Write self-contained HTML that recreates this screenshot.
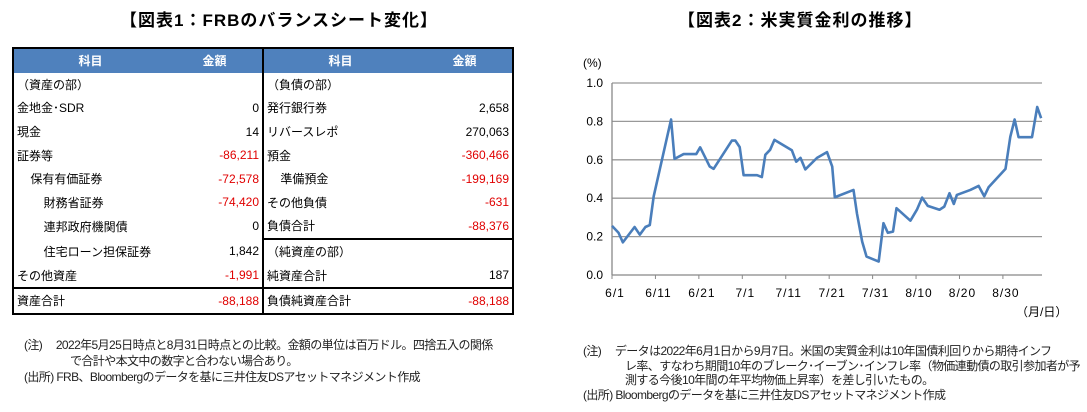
<!DOCTYPE html>
<html><head><meta charset="utf-8">
<style>
body{margin:0;width:1087px;height:412px;background:#fff;font-family:"Liberation Sans","Noto Sans CJK JP",sans-serif;position:relative;overflow:hidden;color:#000}
.title{position:absolute;top:6px;font-size:17px;font-weight:bold;letter-spacing:1px}
table{position:absolute;left:12px;top:47px;border-collapse:collapse;font-size:12px;table-layout:fixed;width:502px}
td{height:23.6px;padding:0 3px;white-space:nowrap;overflow:hidden}
.h td{background:#4f81bd;color:#fff;font-weight:bold;text-align:center;font-size:12px}
.n{text-align:right}
.r{color:#e00000}
.note{position:absolute;font-size:12px;white-space:nowrap;line-height:16px;color:#222;letter-spacing:-0.6px}
</style></head><body>
<div class="title" style="left:120px">【図表1：FRBのバランスシート変化】</div>
<div class="title" style="left:678px">【図表2：米実質金利の推移】</div>
<table style="border:2px solid #000">
<colgroup><col style="width:154px"><col style="width:96px"><col style="width:154px"><col style="width:96px"></colgroup>
<tr class="h"><td>科目</td><td>金額</td><td style="border-left:2px solid #000">科目</td><td>金額</td></tr>
<tr><td>（資産の部）</td><td></td><td style="border-left:2px solid #000">（負債の部）</td><td></td></tr>
<tr><td>金地金･SDR</td><td class="n">0</td><td style="border-left:2px solid #000">発行銀行券</td><td class="n">2,658</td></tr>
<tr><td>現金</td><td class="n">14</td><td style="border-left:2px solid #000">リバースレポ</td><td class="n">270,063</td></tr>
<tr><td>証券等</td><td class="n r">-86,211</td><td style="border-left:2px solid #000">預金</td><td class="n r">-360,466</td></tr>
<tr><td>&nbsp;&nbsp;&nbsp;&nbsp;保有有価証券</td><td class="n r">-72,578</td><td style="border-left:2px solid #000">&nbsp;&nbsp;&nbsp;&nbsp;準備預金</td><td class="n r">-199,169</td></tr>
<tr><td>&nbsp;&nbsp;&nbsp;&nbsp;&nbsp;&nbsp;&nbsp;&nbsp;財務省証券</td><td class="n r">-74,420</td><td style="border-left:2px solid #000">その他負債</td><td class="n r">-631</td></tr>
<tr><td>&nbsp;&nbsp;&nbsp;&nbsp;&nbsp;&nbsp;&nbsp;&nbsp;連邦政府機関債</td><td class="n">0</td><td style="border-left:2px solid #000">負債合計</td><td class="n r">-88,376</td></tr>
<tr><td>&nbsp;&nbsp;&nbsp;&nbsp;&nbsp;&nbsp;&nbsp;&nbsp;住宅ローン担保証券</td><td class="n">1,842</td><td style="border-left:2px solid #000;border-top:2px solid #000">（純資産の部）</td><td style="border-top:2px solid #000"></td></tr>
<tr><td>その他資産</td><td class="n r">-1,991</td><td style="border-left:2px solid #000">純資産合計</td><td class="n">187</td></tr>
<tr><td style="border-top:2px solid #000">資産合計</td><td class="n r" style="border-top:2px solid #000">-88,188</td><td style="border-left:2px solid #000;border-top:2px solid #000">負債純資産合計</td><td class="n r" style="border-top:2px solid #000">-88,188</td></tr>
</table>
<div class="note" style="left:24px;top:337px">(注)&nbsp;&nbsp;&nbsp;&nbsp;&nbsp;2022年5月25日時点と8月31日時点との比較。金額の単位は百万ドル。四捨五入の関係<br><span style="padding-left:46px">で合計や本文中の数字と合わない場合あり。</span><br>(出所)&nbsp;FRB、Bloombergのデータを基に三井住友DSアセットマネジメント作成</div>
<div class="note" style="left:583px;top:344px;line-height:14.7px">(注)&nbsp;&nbsp;&nbsp;&nbsp;&nbsp;データは2022年6月1日から9月7日。米国の実質金利は10年国債利回りから期待インフ<br><span style="padding-left:42px">レ率、すなわち期間10年のブレーク･イーブン･インフレ率（物価連動債の取引参加者が予</span><br><span style="padding-left:42px">測する今後10年間の年平均物価上昇率）を差し引いたもの。</span><br>(出所)&nbsp;Bloombergのデータを基に三井住友DSアセットマネジメント作成</div>
<svg id="chart" width="1087" height="412" style="position:absolute;left:0;top:0" font-family="Liberation Sans, sans-serif" font-size="12"></svg>
<script>
const dayOffsets=[0,1.5,2.5,5.2,6.4,7.7,8.7,9.6,13.6,14.4,16.5,19.4,20.3,22.5,23.4,27.6,28.4,29.4,30.3,33.4,34.5,35.3,36.4,37.4,41.4,42.4,43.4,44.5,47.2,49.5,50.7,51.3,55.6,56.4,57.6,58.6,61.4,62.5,63.5,64.7,65.5,68.7,70.2,71.4,72.7,75.4,76.5,77.7,78.7,79.4,82.5,84.4,85.7,86.7,90.6,91.7,92.7,93.6,96.7,97.9,98.8];
const realRates=[0.256,0.22,0.17,0.25,0.21,0.25,0.26,0.41,0.81,0.605,0.63,0.63,0.665,0.565,0.553,0.70,0.70,0.666,0.52,0.52,0.51,0.626,0.652,0.704,0.65,0.59,0.61,0.55,0.61,0.64,0.565,0.405,0.443,0.32,0.174,0.096,0.07,0.27,0.22,0.226,0.348,0.283,0.34,0.403,0.36,0.34,0.356,0.426,0.37,0.417,0.443,0.464,0.41,0.457,0.553,0.72,0.81,0.718,0.718,0.875,0.817];
const yTicks=[0,0.2,0.4,0.6,0.8,1.0];
const xTickDays=[0,10,20,30,40,50,60,70,80,90];
const xTickLabels=["6/1","6/11","6/21","7/1","7/11","7/21","7/31","8/10","8/20","8/30"];
const X0=612,X1=1042,Y0=275,Y1=83,DMAX=99;
const xs=d=>X0+d/DMAX*(X1-X0);
const ys=v=>Y0+(v-0)/(1-0)*(Y1-Y0);
const svg=document.getElementById('chart');const NS='http://www.w3.org/2000/svg';
function mk(t,a){const e=document.createElementNS(NS,t);for(const k in a)e.setAttribute(k,a[k]);svg.appendChild(e);return e;}
yTicks.forEach(v=>{
 const g=mk('line',{x1:X0,x2:X1,y1:ys(v),y2:ys(v),stroke:v===0?'#888':'#999','stroke-width':1.3});
 
 
 const t=mk('text',{x:X0-9,y:ys(v)+4,'text-anchor':'end'});t.textContent=v.toFixed(1);
 
 
});
const ax=mk('line',{x1:X0,x2:X0,y1:Y1,y2:Y0,stroke:'#888','stroke-width':1.3});


xTickDays.forEach((d,i)=>{
 const tk=mk('line',{x1:xs(d),x2:xs(d),y1:Y0,y2:Y0+4,stroke:'#888'});
 
 
 const t=mk('text',{x:xs(d)+3,y:Y0+22,'text-anchor':'middle','letter-spacing':'1'});t.textContent=xTickLabels[i];
 
 
});
const u=mk('text',{x:583,y:67});u.textContent='(%)';


const u2=mk('text',{x:1016,y:316,'font-family':'Liberation Sans, Noto Sans CJK JP, sans-serif'});u2.textContent='（月/日）';


const p=mk('polyline',{points:dayOffsets.map((d,i)=>xs(d)+','+ys(realRates[i])).join(' '),fill:'none',stroke:'#4a7ebb','stroke-width':2.6,'stroke-linejoin':'round'});


</script>
</body></html>
